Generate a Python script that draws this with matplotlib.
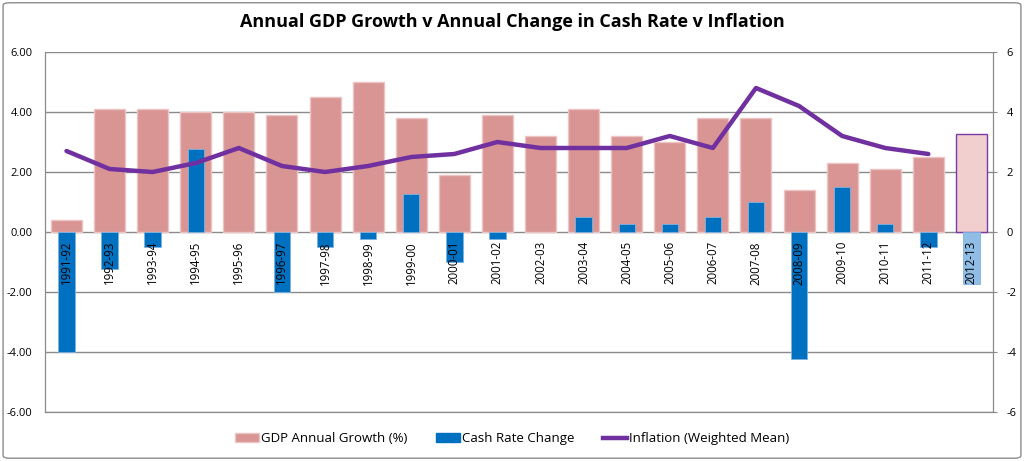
import matplotlib.pyplot as plt
import numpy as np
from matplotlib.patches import Patch, FancyBboxPatch
from matplotlib.lines import Line2D

years = ['1991-92', '1992-93', '1993-94', '1994-95', '1995-96', '1996-97', '1997-98',
         '1998-99', '1999-00', '2000-01', '2001-02', '2002-03', '2003-04', '2004-05',
         '2005-06', '2006-07', '2007-08', '2008-09', '2009-10', '2010-11', '2011-12',
         '2012-13']
gdp_growth = [0.4, 4.1, 4.1, 4.0, 4.0, 3.9, 4.5, 5.0, 3.8, 1.9, 3.9, 3.2, 4.1, 3.2,
              3.0, 3.8, 3.8, 1.4, 2.3, 2.1, 2.5, 3.25]
cash_change = [-4.0, -1.25, -0.5, 2.75, 0.0, -2.0, -0.5, -0.25, 1.25, -1.0, -0.25, 0.0,
               0.5, 0.25, 0.25, 0.5, 1.0, -4.25, 1.5, 0.25, -0.5, -1.75]
inflation = [2.7, 2.1, 2.0, 2.3, 2.8, 2.2, 2.0, 2.2, 2.5, 2.6, 3.0, 2.8, 2.8, 2.8,
             3.2, 2.8, 4.8, 4.2, 3.2, 2.8, 2.6]
left_ticks = [-6, -4, -2, 0, 2, 4, 6]

font = ['Open Sans', 'DejaVu Sans']
plt.rcParams['font.family'] = font

fig = plt.figure(figsize=(10.24, 4.61), dpi=100)
fig.patches.append(FancyBboxPatch((0.003, 0.006), 0.994, 0.988, boxstyle='round,pad=0,rounding_size=0.006',
                                  transform=fig.transFigure, fill=False, edgecolor='#8c8c8c', lw=1))

ax = fig.add_axes([0.0439, 0.1063, 0.9258, 0.7809])
ax2 = ax.twinx()

x = np.arange(len(years))
n = len(years)

# GDP bars (last one is forecast)
gdp_colors = ['#d99594'] * (n - 1) + ['#f0cfce']
gdp_edges = ['#ecc4c3'] * (n - 1) + ['#7a3aa8']
ax.bar(x, gdp_growth, width=0.72, color=gdp_colors, edgecolor=gdp_edges, linewidth=1, zorder=2)

cash_colors = ['#0070c0'] * (n - 1) + ['#8fbde6']
cash_lw = [0.6 if v != 0 else 0 for v in cash_change]
ax2.bar(x, cash_change, width=0.38, color=cash_colors, edgecolor='#7fb3e0', linewidth=cash_lw, zorder=2)
ax2.plot(x[:len(inflation)], inflation, color='#7030a0', lw=3.2, solid_capstyle='round',
         solid_joinstyle='round', zorder=3)

for a in (ax, ax2):
    a.set_ylim(-6, 6)
    a.set_xlim(-0.5, n - 0.5)
    a.set_xticks([])

ax.set_yticks(left_ticks)
ax.set_yticklabels(['%.2f' % v for v in left_ticks])
ax.yaxis.grid(True, color='#8a8a8a', lw=1)
ax.set_axisbelow(True)
ax.tick_params(axis='y', length=0, labelsize=8, pad=9)
ax2.set_yticks(left_ticks)
ax2.set_yticklabels([str(v) for v in left_ticks])
ax2.tick_params(axis='y', length=3, color='#8a8a8a', labelsize=8, pad=7)

for a in (ax, ax2):
    a.spines['top'].set_visible(False)
    for s in ['left', 'right', 'bottom']:
        a.spines[s].set_color('#8a8a8a')

for i, lab in enumerate(years):
    ax2.annotate(lab, (i, 0), xytext=(0, -6.5), textcoords='offset points', rotation=90,
                 ha='center', va='top', fontsize=8.3, color='black', zorder=5)

fig.text(0.5, 0.952, 'Annual GDP Growth v Annual Change in Cash Rate v Inflation',
         ha='center', va='center', fontsize=13, fontweight='bold')

handles = [Patch(facecolor='#d99594', edgecolor='#ecc4c3'),
           Patch(facecolor='#0070c0', edgecolor='#0070c0'),
           Line2D([], [], color='#7030a0', lw=3.2)]
labels = ['GDP Annual Growth (%)', 'Cash Rate Change', 'Inflation (Weighted Mean)']
fig.legend(handles, labels, loc='center', bbox_to_anchor=(0.5, 0.048), ncol=3, frameon=False,
           fontsize=9.5, handlelength=1.8, handleheight=0.7, handletextpad=0.15, columnspacing=2.2)

fig.savefig('out.png', dpi=100)
